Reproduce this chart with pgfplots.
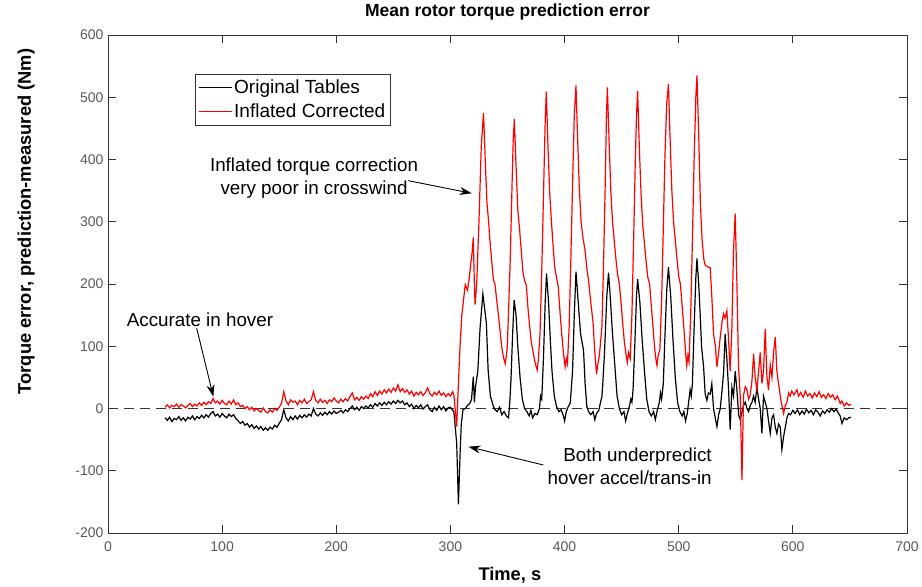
\documentclass[border=0pt]{standalone}
\usepackage{fontspec}
\setmainfont{Liberation Sans}
\usepackage{pgfplots}
\pgfplotsset{compat=1.18}
\usetikzlibrary{arrows.meta}
\begin{document}
\begin{tikzpicture}
\begin{axis}[
  width=799pt, height=498pt, scale only axis,
  xmin=0, xmax=700, ymin=-200, ymax=600,
  xtick={0,100,...,700}, ytick={-200,-100,...,600},
  tick align=inside, major tick length=8pt,
  axis line style={draw=black!80, line width=0.8pt},
  every tick/.style={draw=black!80, line width=0.8pt},
  /pgf/number format/assume math mode=true,
  ticklabel style={font=\fontsize{14}{16}\selectfont, text=black!65},
  xticklabel style={yshift=-5pt},
  yticklabel style={xshift=-1pt},
  title={Mean rotor torque prediction error},
  title style={font=\fontsize{17.5}{20}\selectfont\bfseries, at={(axis description cs:0.5,1.034)}, anchor=center},
  xlabel={Time, s},
  xlabel style={font=\fontsize{18.3}{21}\selectfont\bfseries, at={(axis description cs:0.503,-0.0843)}, anchor=center},
  ylabel={Torque error, prediction-measured (Nm)},
  ylabel style={font=\fontsize{18.3}{21}\selectfont\bfseries, at={(axis description cs:-0.1026,0.6255)}, anchor=center},
  legend style={at={(axis description cs:0.1089,0.9217)}, anchor=north west, draw=black!80,
    font=\fontsize{19}{22}\selectfont, inner xsep=3pt, inner ysep=4pt, row sep=4pt, cells={anchor=west}},
  legend image code/.code={\draw[#1, line width=1pt] (0pt,0pt) -- (33pt,0pt);},
  legend cell align=left,
]
\addplot[black!80, dash pattern=on 10pt off 6pt, line width=0.7pt, forget plot] coordinates {(0,0)(700,0)};

\addplot[black, line width=1.2pt] coordinates {
(50,-15)(52,-19)(54,-14)(56,-21)(58,-16)(60,-18)(62,-13)(64,-19)(66,-15)(68,-20)(70,-14)(72,-17)(74,-12)(76,-18)(78,-13)(80,-16)(82,-11)(84,-15)(86,-10)(88,-14)(90,-8)(92,-5)(94,-12)(96,-9)(98,-14)(100,-8)(102,-12)(104,-15)(106,-9)(108,-13)(110,-10)(112,-16)(114,-20)(116,-24)(118,-21)(120,-27)(122,-24)(124,-30)(126,-26)(128,-32)(130,-28)(132,-33)(134,-29)(136,-35)(138,-31)(140,-35)(142,-30)(144,-33)(146,-27)(148,-30)(150,-24)(152,-18)(154,-2)(156,-15)(158,-20)(160,-13)(162,-18)(164,-12)(166,-17)(168,-11)(170,-15)(172,-10)(174,-14)(176,-9)(178,-12)(180,0)(182,-9)(184,-12)(186,-7)(188,-11)(190,-6)(192,-10)(194,-5)(196,-9)(198,-4)(200,-8)(202,-6)(204,-3)(206,-7)(208,-2)(210,-5)(212,0)(214,4)(216,-2)(218,2)(220,-3)(222,3)(224,0)(226,4)(228,1)(230,6)(232,2)(234,8)(236,4)(238,9)(240,5)(242,10)(244,6)(246,11)(248,7)(250,12)(252,8)(254,13)(256,9)(258,12)(260,6)(262,9)(264,3)(266,7)(268,0)(270,5)(272,1)(274,6)(276,-1)(278,3)(280,6)(282,-2)(284,-5)(286,2)(288,-3)(290,4)(292,-2)(294,3)(296,-4)(298,1)(300,2)(302,-3)(303,-5)(304,-25)(305.5,-56)(307,-154)(308.5,-71)(309.5,-25)(311,-2)(313,0)(315,5)(317,8)(318.5,15)(320,51)(321,10)(322,35)(324,60)(326,130)(328.4,184)(330,160)(331.5,137)(333,63)(335,20)(337.7,3)(339,-2)(341,-5)(343,2)(345,-10)(347,-5)(349,-12)(350.9,-15)(352,10)(353,44)(354.5,120)(355.8,174)(357.5,150)(359,100)(361,50)(363,15)(365,0)(367,-5)(369,-12)(370.5,-3)(372,-15)(374,-8)(376,-10)(378,0)(379,20)(380,15)(381.5,80)(383,170)(384.2,217)(386,170)(387.5,110)(389,60)(391,20)(393,3)(395,-5)(397,-2)(399,-12)(400,-20)(401.5,-5)(403,2)(405,9)(407,60)(408.5,150)(410,220)(412,170)(414,120)(416.6,94)(418,40)(419.5,3)(421,-5)(423,-10)(425,-5)(426.5,-18)(428,-8)(430,-3)(431.5,10)(432.7,19)(433.5,40)(435,90)(437,180)(438.5,218)(440,180)(442,120)(444,70)(446,20)(448,0)(450,-10)(452,-5)(453.5,-20)(455,-8)(457,5)(458,15)(459,10)(460,30)(461.5,100)(463,180)(464,208)(466,170)(468,110)(470,60)(472,15)(474,-5)(476,-12)(478,-5)(479.5,-18)(481,-5)(483,10)(484,25)(485,15)(486.5,40)(488,120)(489.5,190)(491,227)(493,180)(495,110)(497,50)(499,10)(501,-5)(503,-12)(504.5,-5)(506,-20)(507.5,-8)(509,15)(510,30)(511,20)(512,40)(513.5,130)(515,210)(516,241)(517.5,200)(518.8,152)(520,100)(521.8,67)(523.2,23)(524.7,13)(526,25)(527.6,23)(529,40)(530.5,0)(532,-15)(533.5,-29)(535,-10)(536.4,0)(538,30)(539.3,57)(540.7,120)(542.2,80)(543.7,30)(545.1,-34)(546.6,34)(548,20)(549.5,60)(551,30)(552.5,-10)(553.9,-18)(555.4,-5)(556.8,5)(558.3,10)(559.8,0)(561.2,-5)(562.7,5)(564.2,10)(565.6,20)(567,10)(568.5,34)(570,15)(571.4,0)(572.9,-40)(574.3,20)(575.8,10)(577.3,0)(578.7,-20)(580.2,-40)(581.7,-15)(583.1,-10)(584.6,-30)(586,-40)(587.5,-25)(589,-30)(590.4,-66)(591.9,-45)(593.4,-30)(594.8,-15)(596.3,-8)(598,-10)(600,-3)(602,-8)(604,-2)(606,-10)(608,-4)(610,-9)(612,-1)(614,-7)(616,-3)(618,-10)(620,-2)(622,-6)(624,-12)(626,-4)(628,-8)(630,-2)(632,-6)(634,0)(636,-5)(638,-1)(640,-8)(641.5,-12)(643,-24)(645,-15)(647,-18)(649,-15)(651,-14)
};
\addlegendentry{Original Tables}

\addplot[red, line width=1.2pt] coordinates {
(50,2)(52,6)(54,1)(56,5)(58,3)(60,7)(62,2)(64,6)(66,4)(68,1)(70,5)(72,8)(74,3)(76,7)(78,4)(80,9)(82,5)(84,10)(86,6)(88,11)(90,8)(92,16)(94,9)(96,12)(98,7)(100,13)(102,8)(104,6)(106,12)(108,7)(110,14)(112,6)(114,9)(116,3)(118,5)(120,0)(122,3)(124,-2)(126,2)(128,-4)(130,0)(132,-3)(134,-6)(136,1)(138,-5)(140,-7)(142,-2)(144,-6)(146,0)(148,-3)(150,2)(152,8)(154,27)(156,12)(158,6)(160,14)(162,10)(164,12)(166,6)(168,13)(170,9)(172,15)(174,8)(176,11)(178,14)(180,27)(182,13)(184,9)(186,15)(188,10)(190,13)(192,8)(194,14)(196,11)(198,17)(200,12)(202,9)(204,15)(206,11)(208,16)(210,12)(212,19)(214,25)(216,14)(218,18)(220,13)(222,19)(224,15)(226,20)(228,16)(230,24)(232,19)(234,27)(236,21)(238,28)(240,23)(242,30)(244,25)(246,31)(248,26)(250,33)(252,28)(254,38)(256,27)(258,32)(260,26)(262,30)(264,23)(266,28)(268,20)(270,26)(272,22)(274,27)(276,21)(278,25)(280,33)(282,24)(284,20)(286,26)(288,22)(290,28)(292,21)(294,25)(296,19)(298,24)(300,20)(302,27)(303,22)(304,2)(305.5,-29)(307,40)(308.5,103)(310,150)(311.5,175)(313,199)(315,190)(316.5,210)(318,236)(319,250)(320,275)(321,200)(321.6,167)(323,200)(325,300)(327,420)(329,475)
(330.5,400)(332,330)(333.4,302)(334.5,273)(336,240)(337.7,206)(339,200)(340.5,175)(342,151)(343.5,125)(345,98)(346.5,82)(348,72)(349,85)(349.8,98)(351,160)(352.5,246)(354,360)(355,430)(356,465)
(357.5,390)(359,320)(360.5,290)(362,255)(363.5,220)(365,205)(366.5,198)(368,160)(369.5,130)(371,105)(372.5,90)(374,75)(375,68)(376,62)(377,78)(378.5,120)(380,220)(381.5,340)(383,460)(384,509)
(385.5,420)(387,345)(388.5,300)(390,260)(391.5,225)(393,210)(394.5,195)(396,155)(397.5,120)(399,90)(400.5,67)(401.5,80)(402.5,72)(404,130)(405.5,240)(407,360)(408.5,470)(410,519)
(411.5,430)(413,350)(414.5,300)(416,275)(418,254)(419.5,225)(421,206)(423,170)(425,137)(426.5,90)(428,55)(429,70)(430.5,85)(432.7,131)(434,220)(435.5,350)(436.7,470)(437.5,516)
(439,430)(440.5,350)(442,300)(443.5,270)(445,240)(446.5,215)(448,200)(449.5,170)(451,135)(452.5,105)(454,85)(455,74)(456,90)(457.5,80)(459,150)(460.5,270)(462,400)(463,470)(464,510)
(465.5,420)(467,345)(468.5,295)(470,265)(471.5,235)(473,210)(474.5,200)(476,165)(477.5,130)(479,95)(480,80)(481,69)(482,85)(483.5,95)(485,170)(486.5,290)(488,410)(489.5,490)(491,521)
(492.5,430)(494,350)(495.5,300)(497,270)(498.5,240)(500,212)(501.5,200)(503,165)(504.5,130)(506,90)(507,69)(508,85)(509,75)(510.5,150)(512,270)(513.5,400)(515,500)(516,535)
(517.5,440)(519,330)(520.5,270)(522,240)(523.2,230)(525,228)(527.6,226)(529,180)(530.5,120)(532,102)(533.5,67)(535,90)(536.4,115)(538,140)(539.3,152)(540.5,145)(542.2,157)(543.7,110)(545.1,60)(546.6,130)(548,254)(549.5,313)(551,200)(552.4,67)(553.9,20)(555.4,-115)(556.8,21)(558.3,35)(559.8,30)(561.2,15)(562.7,22)(564.2,45)(565.6,88)(567,50)(568.5,30)(570,60)(571.4,90)(572.9,40)(574.3,60)(575.8,128)(577.3,50)(578.7,30)(580.2,70)(581.7,50)(583.1,90)(584.6,115)(586,60)(587.5,40)(589,20)(590.4,5)(591.9,-8)(593.4,5)(594.8,10)(596.3,25)(597.7,20)(599,28)(601,22)(603.6,30)(605,20)(607,26)(609,18)(611,28)(613,20)(615,24)(617,17)(619,25)(621,19)(623,27)(625,18)(627,22)(629,16)(631,24)(633,18)(635,22)(637,14)(639,20)(641.5,8)(643,12)(645,4)(647,9)(649,5)(651,7)
};
\addlegendentry{Inflated Corrected}

\node[font=\fontsize{18.8}{22}\selectfont, align=center] at (axis cs:80.6,142) {Accurate in hover};
\draw[-{Stealth[length=12pt,width=8pt]}, line width=0.9pt] (axis cs:77.7,129) -- (axis cs:92.3,19);
\node[font=\fontsize{18.8}{23}\selectfont, align=center] at (axis cs:180.5,369.5) {Inflated torque correction\\very poor in crosswind};
\draw[-{Stealth[length=12pt,width=8pt]}, line width=0.9pt] (axis cs:263,366) -- (axis cs:318.7,345.7);
\node[font=\fontsize{18.8}{23}\selectfont, align=right, anchor=east] at (axis cs:532,-93) {Both underpredict\\hover accel/trans-in};
\draw[-{Stealth[length=12pt,width=8pt]}, line width=0.9pt] (axis cs:381.5,-90.8) -- (axis cs:315.8,-61.4);
\end{axis}
\path ([shift={(-108pt,-52pt)}]current axis.south west) rectangle ([shift={(15pt,35pt)}]current axis.north east);
\end{tikzpicture}
\end{document}
